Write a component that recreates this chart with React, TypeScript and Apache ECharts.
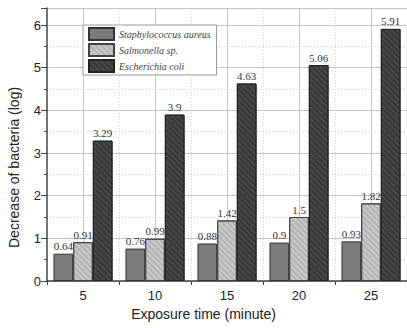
import React, { useEffect, useRef } from "react";
import * as echarts from "echarts";

const categories = ["5", "10", "15", "20", "25"];
const staphylococcus = [0.64, 0.76, 0.88, 0.9, 0.93];
const salmonella = [0.91, 0.99, 1.42, 1.5, 1.82];
const ecoli = [3.29, 3.9, 4.63, 5.06, 5.91];
const seriesNames = ["Staphylococcus aureus", "Salmonella sp.", "Escherichia coli"];

export default function App() {
  const ref = useRef<HTMLDivElement>(null);
  useEffect(() => {
    document.body.style.margin = "0";
    const chart = echarts.init(ref.current!, null, { renderer: "svg" });
    const labelStyle = {
      show: true,
      position: "top" as const,
      distance: 2,
      fontFamily: "Liberation Serif",
      fontSize: 11,
      color: "#333",
    };
    const hatch = (color: string) => ({
      symbol: "rect",
      symbolSize: 1,
      dashArrayX: [1, 0],
      dashArrayY: [1, 3],
      rotation: Math.PI / 4,
      color,
    });
    chart.setOption({
      animation: false,
      backgroundColor: "#fff",
      grid: { left: 47, right: -7, top: 8, bottom: 47 },
      legend: {
        orient: "vertical",
        left: 83,
        top: 25,
        icon: "rect",
        itemWidth: 25,
        itemHeight: 12,
        itemGap: 2,
        padding: [2, 6, 2, 5],
        borderColor: "#999",
        borderWidth: 1,
        backgroundColor: "#fff",
        textStyle: {
          fontFamily: "Liberation Serif",
          fontStyle: "italic",
          fontSize: 10,
          color: "#444",
          padding: [0, 12, 0, 0],
        },
        data: seriesNames,
      },
      xAxis: {
        type: "category",
        data: categories,
        axisLine: { lineStyle: { color: "#444", width: 1.5 } },
        axisTick: { show: true, length: 4, lineStyle: { color: "#444" } },
        axisLabel: { fontFamily: "Liberation Sans", fontSize: 13, color: "#222", margin: 8 },
        splitLine: { show: false },
      },
      yAxis: {
        type: "value",
        min: 0,
        max: 6.4,
        interval: 1,
        axisLine: { show: true, lineStyle: { color: "#444", width: 1.5 } },
        axisTick: { show: true, length: 6, lineStyle: { color: "#444" } },
        minorTick: { show: true, splitNumber: 2, length: 3, lineStyle: { color: "#444" } },
        axisLabel: { fontFamily: "Liberation Sans", fontSize: 13, color: "#222", margin: 6, showMaxLabel: false },
        splitLine: { show: true, lineStyle: { color: "#c4c4c4" } },
        minorSplitLine: { show: true, lineStyle: { color: "#cccccc", type: [1, 2] } },
      },
      graphic: [
        {
          type: "text",
          left: "center",
          top: 307,
          style: {
            text: "Exposure time (minute)",
            fontFamily: "Liberation Sans",
            fontSize: 14,
            fill: "#222",
          },
          x: 23,
        },
        {
          type: "text",
          x: 7,
          y: 248,
          rotation: Math.PI / 2,
          style: {
            text: "Decrease of bacteria (log)",
            fontFamily: "Liberation Sans",
            fontSize: 14,
            fill: "#222",
          },
        },
      ],
      series: [
        {
          type: "custom",
          silent: true,
          z: 1,
          data: categories.map((_c, i) => [i, 0]),
          encode: { x: 0, y: 1 },
          renderItem: (params: any, api: any) => {
            const x = api.coord([api.value(0), 0])[0];
            const w = api.size([1, 0])[0];
            const cs = params.coordSys;
            const xb = x + w / 2;
            return {
              type: "group",
              children: [
                {
                  type: "rect",
                  shape: { x: Math.round(x), y: cs.y, width: 1, height: cs.height },
                  style: { fill: "#c4c4c4" },
                },
                {
                  type: "line",
                  shape: { x1: Math.round(xb) + 0.5, y1: cs.y, x2: Math.round(xb) + 0.5, y2: cs.y + cs.height },
                  style: { stroke: "#d0d0d0", lineWidth: 1, lineDash: [1, 2] },
                },
              ],
            };
          },
        },
        {
          name: seriesNames[0],
          type: "bar",
          data: staphylococcus,
          barGap: "0%",
          barCategoryGap: "18%",
          z: 3,
          itemStyle: { color: "#7b7b7b", borderColor: "#333", borderWidth: 1 },
          label: labelStyle,
        },
        {
          name: seriesNames[1],
          type: "bar",
          data: salmonella,
          z: 3,
          itemStyle: { color: "#c6c6c6", borderColor: "#444", borderWidth: 1, decal: hatch("rgba(120,120,120,0.4)") },
          label: labelStyle,
        },
        {
          name: seriesNames[2],
          type: "bar",
          data: ecoli,
          z: 3,
          itemStyle: { color: "#3a3a3a", borderColor: "#222", borderWidth: 1, decal: hatch("rgba(100,100,100,0.55)") },
          label: labelStyle,
        },
      ],
    });
    return () => chart.dispose();
  }, []);
  return <div ref={ref} style={{ width: 407, height: 328 }} />;
}
